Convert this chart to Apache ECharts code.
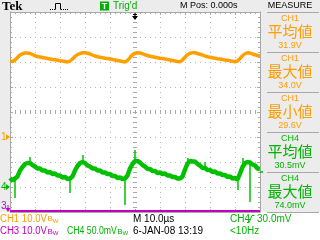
<!DOCTYPE html>
<html>
<head>
<meta charset="utf-8">
<script src="https://cdn.jsdelivr.net/npm/echarts@6/dist/echarts.min.js"></script>
<style>
html,body{margin:0;padding:0;background:#ffffff;}
#chart{width:320px;height:240px;}
</style>
</head>
<body>
<div id="chart"></div>
<script>
// ---------------- data ----------------
const sampleStartUs = -50;   // M Pos 0.000s, 10 us/div
const sampleStepUs = 1;

// CH1, volts (10.0 V/div)
const ch1Volts = [
  30.3, 30.2, 30.8, 31.8, 32.8, 33.3, 33.6, 33.6, 33.4, 33.0,
  32.5, 32.2, 32.0, 31.8, 31.6, 31.4, 31.2, 31.0, 30.9, 30.7,
  30.5, 30.4, 30.2, 30.0, 30.4, 31.2, 32.2, 33.0, 33.4, 33.7,
  33.7, 33.5, 33.2, 32.8, 32.4, 32.1, 31.9, 31.7, 31.5, 31.4,
  31.2, 31.0, 30.8, 30.6, 30.4, 30.2, 30.0, 30.6, 31.8, 32.9,
  33.5,
  33.7, 33.6, 33.3, 32.9, 32.6, 32.3, 32.1, 31.9, 31.7, 31.5,
  31.4, 31.2, 31.0, 30.8, 30.6, 30.4, 30.2, 30.1, 30.8, 31.9,
  32.9, 33.5, 33.7, 33.7, 33.4, 33.1, 32.8, 32.4, 32.1, 31.9,
  31.7, 31.5, 31.3, 31.2, 31.0, 30.8, 30.7, 30.5, 30.3, 30.1,
  30.4, 31.4, 32.5, 33.3, 33.7, 33.6, 33.2, 32.9, 32.6, 32.5
];

// CH4, millivolts (50.0 mV/div) - noisy band
const ch4MilliVolts = [
  18, 13, 17, 21, 33, 40, 46, 48, 48, 44,
  41, 37, 37, 33, 33, 29, 30, 26, 27, 23,
  23, 19, 20, 16, 17, 21, 33, 42, 48, 50,
  48, 43, 41, 37, 37, 33, 33, 29, 29, 26,
  26, 22, 22, 18, 19, 16, 17, 23, 37, 46,
  52,
  52, 49, 44, 41, 36, 36, 32, 32, 28, 29,
  26, 27, 23, 23, 20, 20, 17, 17, 21, 35,
  47, 52, 51, 51, 46, 43, 38, 38, 34, 34,
  30, 31, 27, 27, 24, 24, 20, 21, 17, 18,
  15, 27, 40, 48, 50, 49, 45, 43, 37, 36
];
// CH4 glitches (narrow spikes)
const ch4SpikeTimesUs = [-48, -42, -26, -21, -4, 0, 21, 28, 41, 43, 46];
const ch4SpikeMilliVolts = [-22, 60, -12, 64, -36, 74, 58, 50, -6, 58, -30];

// CH3, volts: flat trace at the bottom of the screen
const ch3TimesUs = [-50, 50];
const ch3Volts = [0.4, 0.4];

// measurement panel
const measureChannels = ['CH1', 'CH1', 'CH1', 'CH4', 'CH4'];
const measureNames = ['平均値', '最大値', '最小値', '平均値', '最大値'];
const measureValues = ['31.9V', '34.0V', '29.6V', '30.5mV', '74.0mV'];

// status texts
const topTexts = { brand: 'Tek', trig: "Trig'd", pos: 'M Pos: 0.000s', menu: 'MEASURE' };
const ch1Scale = '10.0V', ch3Scale = '10.0V', ch4Scale = '50.0mV';
const timeBase = 'M 10.0\u00b5s';
const dateText = '6-JAN-08 13:19';
const trigText = '30.0mV';
const freqText = '<10Hz';

// ---------------- styling ----------------
const ORANGE = '#ffa000', GREEN = '#00c000', MAGENTA = '#c000c0';
const TXT_OR = '#ff9c00', TXT_GR = '#00b400', TXT_MG = '#c000c0';
const GRID_DOT = '#b4b4b4', EDGE = '#a8a8a8', PANEL = '#ececec';
const F10 = '10px "Liberation Sans", Arial, sans-serif';
const F9 = '9px "Liberation Sans", Arial, sans-serif';
const CJK = '15px "Noto Sans CJK JP", sans-serif';

const chart = echarts.init(document.getElementById('chart'), null, { renderer: 'canvas', width: 320, height: 240 });

const ch1Data = ch1Volts.map((v, i) => [sampleStartUs + i * sampleStepUs, v]);
const ch4Data = ch4MilliVolts.map((v, i) => [sampleStartUs + i * sampleStepUs, v]);
const ch3Data = ch3Volts.map((v, i) => [ch3TimesUs[i], v]);
const ch4SpikeLines = ch4SpikeTimesUs.map((t, i) => {
  const base = ch4MilliVolts[Math.round((t - sampleStartUs) / sampleStepUs)];
  return [{ coord: [t, base] }, { coord: [t, ch4SpikeMilliVolts[i]] }];
});

function edgeAxis(extra) {
  return Object.assign({
    type: 'value',
    axisLine: { show: true, onZero: false, lineStyle: { color: EDGE, width: 1 } },
    axisTick: { show: true, inside: true, length: 3, lineStyle: { color: EDGE } },
    minorTick: { show: true, splitNumber: 5, length: 2, lineStyle: { color: EDGE } },
    axisLabel: { show: false },
    splitLine: { show: false }
  }, extra);
}
const dotted = { show: true, showMinLine: false, showMaxLine: false, lineStyle: { color: GRID_DOT, width: 1, type: [1, 4] } };
const centre = { show: true, showMinLine: false, showMaxLine: false, lineStyle: { color: EDGE, width: 4, type: [1, 4] } };
const hidden = { axisLine: { show: false }, axisTick: { show: false }, axisLabel: { show: false }, minorTick: { show: false } };

chart.setOption({
  animation: false,
  backgroundColor: 'transparent',
  grid: { left: 10, top: 12, width: 250, height: 200, show: false },
  xAxis: [
    edgeAxis({ min: -50, max: 50, interval: 10, position: 'bottom', splitLine: dotted }),
    edgeAxis({ min: -50, max: 50, interval: 10, position: 'top' }),
    Object.assign({ type: 'value', min: -5, max: 5, interval: 5, position: 'bottom', splitLine: centre }, hidden)
  ],
  yAxis: [
    edgeAxis({ min: -30, max: 50, interval: 10, position: 'left', splitLine: dotted }),
    edgeAxis({ min: -50, max: 350, interval: 50, position: 'right' }),
    Object.assign({ type: 'value', min: -4, max: 4, interval: 4, position: 'left', splitLine: centre }, hidden),
    Object.assign({ type: 'value', min: 0, max: 80, interval: 10, position: 'left', splitLine: { show: false } }, hidden)
  ],
  series: [
    { name: 'CH3', type: 'line', xAxisIndex: 0, yAxisIndex: 3, data: ch3Data, symbol: 'none',
      lineStyle: { color: MAGENTA, width: 2 }, z: 3, silent: true },
    { name: 'CH4', type: 'line', xAxisIndex: 0, yAxisIndex: 1, data: ch4Data, symbol: 'none',
      lineStyle: { color: GREEN, width: 4.5 }, z: 4, silent: true,
      markLine: { silent: true, symbol: ['none', 'none'], animation: false, label: { show: false },
        lineStyle: { color: GREEN, width: 1.5, type: 'solid' }, emphasis: { disabled: true },
        data: ch4SpikeLines } },
    { name: 'CH1', type: 'line', xAxisIndex: 0, yAxisIndex: 0, data: ch1Data, symbol: 'none',
      lineStyle: { color: ORANGE, width: 3.5 }, z: 5, silent: true }
  ]
});

// ---------------- decorations / texts ----------------
const mctx = document.createElement('canvas').getContext('2d');
function tw(t, font) { mctx.font = font; return mctx.measureText(t).width; }
function txt(text, x, y, font, fill, align, sx) {
  return { type: 'text', x: x, y: y, z: 100, silent: true, scaleX: sx || 1,
    style: { text: text, font: font, fill: fill, align: align || 'left', verticalAlign: 'middle',
             textAlign: align || 'left', textVerticalAlign: 'middle' } };
}
function line(x1, y1, x2, y2, stroke, w, dash) {
  return { type: 'line', z: 100, silent: true, shape: { x1: x1, y1: y1, x2: x2, y2: y2 },
    style: { stroke: stroke, lineWidth: w || 1, lineDash: dash || null } };
}
function poly(points, fill) {
  return { type: 'polygon', z: 100, silent: true, shape: { points: points }, style: { fill: fill } };
}
function bw(list, label, x, y, font, color, sx) {
  list.push(txt(label, x, y, font, color, 'left', sx));
  const e = x + tw(label, font) * sx;
  list.push(txt('B', e + 0.5, y, '8px "Liberation Sans", Arial', color));
  list.push(txt('W', e + 5.8, y + 2, '6px "Liberation Sans", Arial', color));
}

const g = [];
// panels
g.push({ type: 'rect', z: -10, silent: true, shape: { x: 0, y: 0, width: 320, height: 12 }, style: { fill: PANEL } });
g.push({ type: 'rect', z: -10, silent: true, shape: { x: 0, y: 12, width: 10, height: 200 }, style: { fill: PANEL } });
g.push({ type: 'rect', z: -10, silent: true, shape: { x: 261, y: 0, width: 59, height: 212 }, style: { fill: PANEL } });

// top bar
g.push(txt(topTexts.brand, 2, 6.5, 'bold 13px "Liberation Serif", serif', '#000'));
g.push({ type: 'polyline', z: 100, silent: true, shape: { points: [[55.5, 9.5], [55.5, 3.5], [60.5, 3.5], [60.5, 9.5]] },
  style: { stroke: '#000', lineWidth: 1, fill: null } });
g.push(line(50, 9.5, 55, 9.5, '#000', 1, [1, 1]));
g.push(line(61, 9.5, 68, 9.5, '#000', 1, [1, 1]));
g.push({ type: 'rect', z: 100, silent: true, shape: { x: 100, y: 1.5, width: 9, height: 9 }, style: { fill: '#00b000' } });
g.push(txt('T', 104.5, 6.2, 'bold 9px "Liberation Sans", Arial', '#fff', 'center'));
g.push(txt(topTexts.trig, 113, 6, F10, '#00b000'));
g.push(txt(topTexts.pos, 180, 6, F9, '#000'));
g.push(txt(topTexts.menu, 290, 6, F9, '#000', 'center'));

// trigger position arrow at top
const xT = chart.convertToPixel({ xAxisIndex: 0 }, 0);
g.push(line(xT, 13, xT, 17, '#000', 1.2));
g.push(line(xT - 2, 14.5, xT + 2, 14.5, '#000', 1));
g.push(poly([[xT - 3, 16], [xT + 3, 16], [xT, 20]], '#000'));

// channel ground markers
function gndMarker(label, color, y) {
  g.push(txt(label, 1, y, F10, color));
  g.push(line(6.5, y - 2.5, 6.5, y + 2.5, color, 1));
  g.push(poly([[6.5, y - 2.5], [10, y], [6.5, y + 2.5]], color));
}
gndMarker('1', TXT_OR, chart.convertToPixel({ yAxisIndex: 0 }, 0));
gndMarker('4', TXT_GR, chart.convertToPixel({ yAxisIndex: 1 }, 0));
g.push(txt('3', 1, 206.5, F10, TXT_MG));
g.push(line(8, 205, 8, 209, TXT_MG, 1));
g.push(poly([[5.5, 208], [10.5, 208], [8, 212]], TXT_MG));

// trigger level marker
const yTrig = chart.convertToPixel({ yAxisIndex: 1 }, 30);
g.push(line(260, yTrig, 263, yTrig, TXT_GR, 1.5));

// measurement panel
for (let i = 0; i < measureNames.length; i++) {
  const top = 12 + 40 * i;
  const col = measureChannels[i] === 'CH1' ? TXT_OR : TXT_GR;
  g.push(line(267, top + 0.5, 319, top + 0.5, '#a8a8a8', 1));
  g.push(txt(measureChannels[i], 290, top + 6.5, F9, col, 'center'));
  g.push(txt(measureNames[i], 290, top + 19, CJK, col, 'center'));
  g.push(txt(measureValues[i], 290, top + 34, F9, col, 'center'));
}
g.push(line(267, 212.5, 319, 212.5, '#a8a8a8', 1));

// bottom status lines
bw(g, 'CH1 ' + ch1Scale, 0, 219, F10, TXT_OR, 0.96);
bw(g, 'CH3 ' + ch3Scale, 0, 231.5, F10, TXT_MG, 0.96);
bw(g, 'CH4 ' + ch4Scale, 67, 231.5, F10, TXT_GR, 0.87);
g.push(txt(timeBase, 133, 219, F10, '#000'));
g.push(txt(dateText, 133, 231.5, F10, '#000'));
g.push(txt('CH4', 230, 219, F10, TXT_GR));
g.push({ type: 'polyline', z: 100, silent: true, shape: { points: [[247, 222.5], [249, 222.5], [252, 215.5], [254.5, 215.5]] },
  style: { stroke: TXT_GR, lineWidth: 1, fill: null } });
g.push(txt(trigText, 257, 219, F10, TXT_GR));
g.push(txt(freqText, 230, 231.5, F10, TXT_GR));

chart.setOption({ graphic: g });
</script>
</body>
</html>
